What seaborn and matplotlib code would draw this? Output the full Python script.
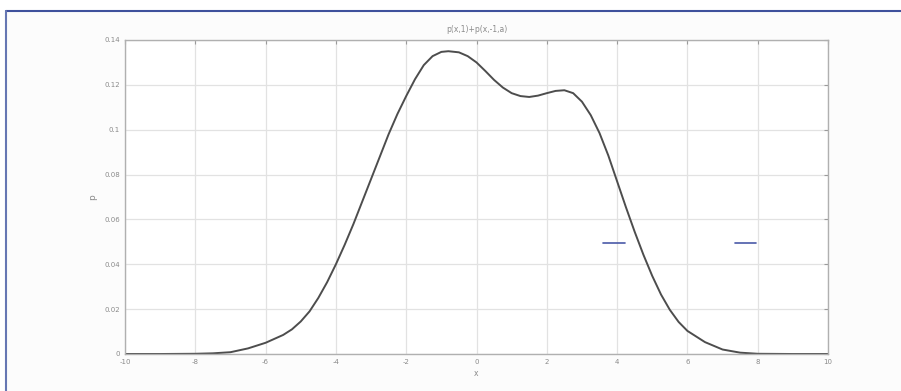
import matplotlib
matplotlib.use("Agg")
import matplotlib.pyplot as plt
from matplotlib.lines import Line2D
import seaborn as sns
import pandas as pd

# curve
x_vals = [-10, -9, -8, -7.5, -7, -6.5, -6, -5.5, -5.25, -5, -4.75, -4.5, -4.25, -4, -3.75, -3.5,
          -3.25, -3, -2.75, -2.5, -2.25, -2,
          -1.75, -1.5, -1.25, -1, -0.8, -0.5, -0.25, 0, 0.25, 0.5, 0.75, 1, 1.25, 1.5, 1.75,
          2, 2.25, 2.5, 2.75, 3, 3.25, 3.5, 3.75, 4, 4.25, 4.5, 4.75, 5, 5.25,
          5.5, 5.75, 6, 6.5, 7, 7.5, 8, 9, 10]
p_vals = [0, 0, 0.0001, 0.0003, 0.0008, 0.0025, 0.005, 0.0085, 0.011, 0.0145, 0.019, 0.025, 0.032, 0.040, 0.0487, 0.058,
          0.068, 0.078, 0.088, 0.098, 0.107, 0.115,
          0.1225, 0.1288, 0.1328, 0.1347, 0.135, 0.1345, 0.1328, 0.130, 0.1262, 0.1222, 0.1188, 0.1163, 0.115, 0.1146, 0.1152,
          0.1163, 0.1173, 0.1176, 0.1163, 0.1125, 0.1065, 0.0985, 0.0885, 0.077, 0.0655, 0.0545, 0.0442, 0.0348, 0.0265,
          0.0197, 0.0143, 0.0103, 0.0053, 0.002, 0.0006, 0.0001, 0, 0]

# two short blue dashes in the picture
dash_x = [[3.6, 4.22], [7.35, 7.95]]
dash_y = [[0.0497, 0.0497], [0.0497, 0.0497]]

x_ticks = [-10, -8, -6, -4, -2, 0, 2, 4, 6, 8, 10]
y_ticks = [0, 0.02, 0.04, 0.06, 0.08, 0.1, 0.12, 0.14]
y_tick_labels = ["0", "0.02", "0.04", "0.06", "0.08", "0.1", "0.12", "0.14"]

sns.set_style("white")
plt.rcParams['font.family'] = ['DejaVu Sans']

df = pd.DataFrame({"x": x_vals, "p": p_vals})

fig = plt.figure(figsize=(9.01, 3.91), dpi=100, facecolor="white")
# light panel inside the blue frame
fig.patches.append(plt.Rectangle((6 / 901, 0), 1, 1 - 11 / 391, transform=fig.transFigure,
                                 facecolor="#fcfcfc", edgecolor="none", zorder=-10))
fig.add_artist(Line2D([6 / 901, 1], [1 - 11 / 391, 1 - 11 / 391], color="#3f519c", lw=1.5, zorder=-5))
fig.add_artist(Line2D([6 / 901, 6 / 901], [0, 1 - 11 / 391], color="#6677b3", lw=1.5, zorder=-5))

ax = fig.add_axes([125 / 901, 37 / 391, 703 / 901, 314 / 391])
ax.set_zorder(1)
ax.set_facecolor("white")

sns.lineplot(data=df, x="x", y="p", ax=ax, color="#4d4d4d", linewidth=1.4)
for dx, dy in zip(dash_x, dash_y):
    ax.plot(dx, dy, color="#4a5aa8", linewidth=1.2)

ax.set_xlim(-10, 10)
ax.set_ylim(0, 0.14)
ax.set_xticks(x_ticks)
ax.set_xticklabels([str(t) for t in x_ticks])
ax.set_yticks(y_ticks)
ax.set_yticklabels(y_tick_labels)
ax.grid(True, color="#e2e2e2", linewidth=0.9)
ax.tick_params(axis="both", direction="in", length=3, width=0.8, colors="#9a9a9a",
               labelsize=5, labelcolor="#8a8a8a", top=True, right=True)
for s in ax.spines.values():
    s.set_color("#b0b0b0")
    s.set_linewidth(1.0)

ax.set_title("p(x,1)+p(x,-1,a)", fontsize=5.5, color="#8a8a8a", pad=6)
ax.set_xlabel("x", fontsize=5.5, color="#8a8a8a", labelpad=3)
ax.set_ylabel("p", fontsize=6.5, color="#8a8a8a", labelpad=5)

plt.savefig("out.png", dpi=100)
plt.close()
